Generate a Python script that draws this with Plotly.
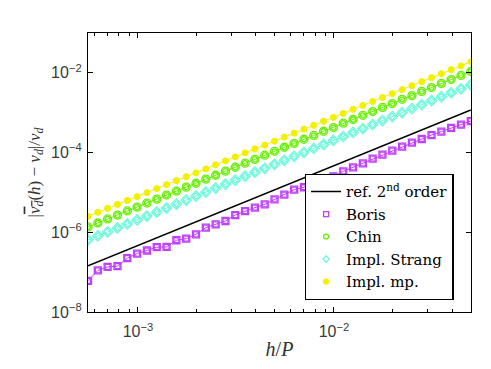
import plotly.graph_objects as go

# step size h/P
h_over_P = [5.56e-4, 6.24e-4, 7.00e-4, 7.86e-4, 8.82e-4, 9.90e-4, 1.111e-3, 1.247e-3,
            1.399e-3, 1.570e-3, 1.762e-3, 1.977e-3, 2.219e-3, 2.490e-3, 2.794e-3, 3.135e-3,
            3.519e-3, 3.949e-3, 4.431e-3, 4.973e-3, 5.580e-3, 6.262e-3, 7.027e-3, 7.886e-3,
            8.850e-3, 9.931e-3, 1.1145e-2, 1.2507e-2, 1.4035e-2, 1.5750e-2, 1.7675e-2,
            1.9835e-2, 2.2259e-2, 2.4979e-2, 2.8031e-2, 3.1457e-2, 3.5301e-2, 3.9614e-2,
            4.4455e-2, 4.9888e-2]

boris = [6.07e-8, 1.104e-7, 1.355e-7, 1.41e-7, 2.24e-7, 2.93e-7, 3.49e-7, 4.22e-7, 4.30e-7,
         6.31e-7, 6.92e-7, 8.91e-7, 1.309e-6, 1.585e-6, 1.919e-6, 2.71e-6, 3.41e-6, 4.14e-6,
         5.01e-6, 6.68e-6, 8.77e-6, 1.175e-5, 1.349e-5, 1.66e-5, 2.00e-5, 2.51e-5, 3.39e-5,
         4.27e-5, 5.37e-5, 7.08e-5, 8.91e-5, 1.122e-4, 1.413e-4, 1.778e-4, 2.19e-4, 2.75e-4,
         3.35e-4, 4.17e-4, 5.01e-4, 6.17e-4]

chin = [1.36e-6, 1.71e-6, 2.16e-6, 2.70e-6, 3.43e-6, 4.28e-6, 5.42e-6, 6.78e-6, 8.60e-6,
        1.075e-5, 1.36e-5, 1.70e-5, 2.16e-5, 2.70e-5, 3.43e-5, 4.28e-5, 5.42e-5, 6.75e-5,
        8.60e-5, 1.075e-4, 1.36e-4, 1.70e-4, 2.16e-4, 2.69e-4, 3.43e-4, 4.25e-4, 5.45e-4,
        6.75e-4, 8.62e-4, 1.07e-3, 1.36e-3, 1.70e-3, 2.17e-3, 2.68e-3, 3.43e-3, 4.28e-3,
        5.45e-3, 6.78e-3, 8.60e-3, 1.08e-2]

strang = [6.46e-7, 8.13e-7, 1.023e-6, 1.287e-6, 1.619e-6, 2.04e-6, 2.56e-6, 3.22e-6, 4.06e-6,
          5.10e-6, 6.42e-6, 8.08e-6, 1.017e-5, 1.279e-5, 1.609e-5, 2.03e-5, 2.55e-5, 3.21e-5,
          4.04e-5, 5.08e-5, 6.39e-5, 8.04e-5, 1.011e-4, 1.272e-4, 1.601e-4, 2.01e-4, 2.53e-4,
          3.19e-4, 4.01e-4, 5.05e-4, 6.35e-4, 7.99e-4, 1.005e-3, 1.265e-3, 1.591e-3, 2.00e-3,
          2.52e-3, 3.17e-3, 3.99e-3, 5.01e-3]

impl_mp = [2.51e-6, 3.16e-6, 3.97e-6, 4.99e-6, 6.28e-6, 7.89e-6, 9.91e-6, 1.247e-5, 1.567e-5,
           1.972e-5, 2.477e-5, 3.11e-5, 3.92e-5, 4.92e-5, 6.19e-5, 7.78e-5, 9.77e-5, 1.230e-4,
           1.545e-4, 1.945e-4, 2.443e-4, 3.07e-4, 3.86e-4, 4.85e-4, 6.11e-4, 7.67e-4, 9.64e-4,
           1.213e-3, 1.524e-3, 1.919e-3, 2.41e-3, 3.03e-3, 3.81e-3, 4.79e-3, 6.03e-3, 7.57e-3,
           9.51e-3, 1.197e-2, 1.503e-2, 1.89e-2]

ref_x = [5.56e-4, 4.9888e-2]
ref_y = [1.45e-7, 1.17e-3]

x_tickvals = [1e-3, 1e-2]
x_ticktext = ["10<sup>−3</sup>", "10<sup>−2</sup>"]
y_tickvals = [1e-8, 1e-6, 1e-4, 1e-2]
y_ticktext = ["10<sup>−8</sup>", "10<sup>−6</sup>", "10<sup>−4</sup>", "10<sup>−2</sup>"]

serif = "DejaVu Serif, Liberation Serif, serif"
tserif = "Liberation Serif, DejaVu Serif, serif"
sans = "Liberation Sans, Arial, sans-serif"

series = [
    ("Boris", boris, "#c040ff", "square-open", 7),
    ("Chin", chin, "#66f000", "circle-open", 8),
    ("Impl. Strang", strang, "#70f8dc", "diamond-open", 8),
    ("Impl. mp.", impl_mp, "#f2f200", "circle", 5.5),
]

fig = go.Figure()
fig.add_trace(go.Scatter(x=ref_x, y=ref_y, mode="lines", name="ref. 2<sup>nd</sup> order",
                         line=dict(color="black", width=1.5)))
for name, ys, col, sym, sz in series:
    fig.add_trace(go.Scatter(x=h_over_P, y=ys, mode="lines+markers", showlegend=False,
                             line=dict(color=col, width=1),
                             marker=dict(symbol=sym, size=sz, color=col,
                                         line=dict(color=col, width=1.3))))
for name, ys, col, sym, sz in series:
    fig.add_trace(go.Scatter(x=h_over_P, y=ys, mode="markers", name=name,
                             hoverinfo="skip",
                             marker=dict(symbol=sym, size=5, color=col,
                                         line=dict(color=col, width=1.3))))

axis_common = dict(type="log", showline=True, linecolor="black", linewidth=1.3, mirror="allticks",
                   ticks="inside", tickcolor="black", showgrid=False, zeroline=False,
                   tickfont=dict(family=sans, size=16, color="#3a3a3a"))

fig.update_layout(
    width=491, height=369,
    margin=dict(l=88, r=20, t=33, b=57),
    paper_bgcolor="white", plot_bgcolor="white",
    xaxis=dict(**axis_common, range=[-3.255, -1.301], tickvals=x_tickvals, ticktext=x_ticktext,
               ticklen=5, ticklabelstandoff=5,
               minor=dict(ticks="inside", ticklen=3, tickcolor="black",
                          tickvals=[2e-3, 3e-3, 4e-3, 5e-3, 6e-3, 7e-3, 8e-3, 9e-3,
                                    6e-4, 7e-4, 8e-4, 9e-4, 2e-2, 3e-2, 4e-2]),
               title=dict(text="<i>h</i>/<i>P</i>", font=dict(family=tserif, size=20, color="#333"),
                          standoff=2)),
    yaxis=dict(**axis_common, range=[-8, -1], tickvals=y_tickvals, ticktext=y_ticktext,
               ticklen=5, ticklabelstandoff=2,
               title=dict(text="|<span style='text-decoration:overline'><i>v</i><sub><i>d</i></sub></span>(<i>h</i>) − <i>v</i><sub><i>d</i></sub>|/<i>v</i><sub><i>d</i></sub>",
                          font=dict(family=tserif, size=17, color="#333"), standoff=6)),
    legend=dict(x=0.955, y=0.043, xanchor="right", yanchor="bottom",
                bgcolor="white", bordercolor="black", borderwidth=1.3,
                font=dict(family=serif, size=15, color="black"),
                tracegroupgap=0, itemwidth=30),
)

fig.write_html("out.html", post_script="document.body.style.margin='0px';",
               config={"displayModeBar": False})
